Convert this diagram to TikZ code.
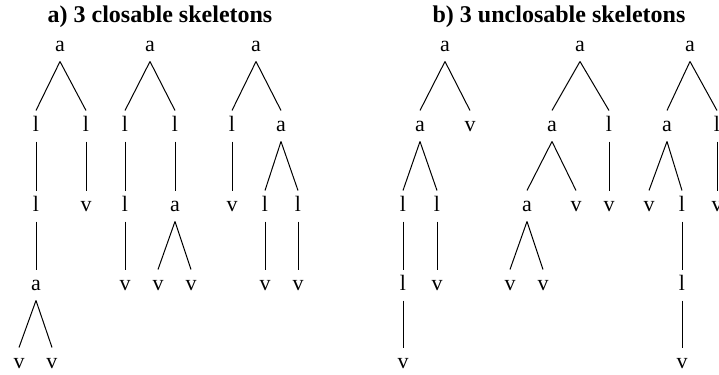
\documentclass[tikz,border=0pt]{standalone}
\usepackage{fontspec}
\setmainfont{Liberation Serif}
\usepackage{tikz}

\tikzset{
  sym/.style={anchor=base, inner xsep=0pt, inner ysep=2.5pt, text height=7.5pt, text depth=2.5pt,
    font=\fontsize{11}{13}\selectfont},
  ttl/.style={anchor=base, inner sep=0pt, font=\fontsize{12}{14}\selectfont\bfseries},
}

\begin{document}
\begin{tikzpicture}[x=0.5pt, y=-0.5pt, line width=0.5pt]
                    \useasboundingbox (0,0) rectangle (719,375);
                    \node[ttl] (ttla) at (160, 22) {a) 3 closable skeletons};
                    \node[ttl] (ttlb) at (559, 22) {b) 3 unclosable skeletons};
                    \begin{scope}[xshift=30pt]
                        \node[sym] (t1n1) at (0, 51) {a};
                        \node[sym] (t1n2) at (-24, 131) {l};
                        \node[sym] (t1n3) at (26, 131) {l};
                        \node[sym] (t1n4) at (-24, 211) {l};
                        \node[sym] (t1n5) at (26, 211) {v};
                        \node[sym] (t1n6) at (-24, 290) {a};
                        \node[sym] (t1n7) at (-41, 368) {v};
                        \node[sym] (t1n8) at (-8, 368) {v};
                        \draw (t1n1.south) -- (t1n2.north);
                        \draw (t1n1.south) -- (t1n3.north);
                        \draw (t1n2.south) -- (t1n4.north);
                        \draw (t1n3.south) -- (t1n5.north);
                        \draw (t1n4.south) -- (t1n6.north);
                        \draw (t1n6.south) -- (t1n7.north);
                        \draw (t1n6.south) -- (t1n8.north);
                    \end{scope}
                    \begin{scope}[xshift=75pt]
                        \node[sym] (t2n1) at (0, 51) {a};
                        \node[sym] (t2n2) at (-25, 131) {l};
                        \node[sym] (t2n3) at (25, 131) {l};
                        \node[sym] (t2n4) at (-25, 211) {l};
                        \node[sym] (t2n5) at (25, 211) {a};
                        \node[sym] (t2n6) at (-25, 290) {v};
                        \node[sym] (t2n7) at (8, 290) {v};
                        \node[sym] (t2n8) at (41, 290) {v};
                        \draw (t2n1.south) -- (t2n2.north);
                        \draw (t2n1.south) -- (t2n3.north);
                        \draw (t2n2.south) -- (t2n4.north);
                        \draw (t2n3.south) -- (t2n5.north);
                        \draw (t2n4.south) -- (t2n6.north);
                        \draw (t2n5.south) -- (t2n7.north);
                        \draw (t2n5.south) -- (t2n8.north);
                    \end{scope}
                    \begin{scope}[xshift=128pt]
                        \node[sym] (t3n1) at (0, 51) {a};
                        \node[sym] (t3n2) at (-24, 131) {l};
                        \node[sym] (t3n3) at (25, 131) {a};
                        \node[sym] (t3n4) at (-24, 211) {v};
                        \node[sym] (t3n5) at (9, 211) {l};
                        \node[sym] (t3n6) at (42, 211) {l};
                        \node[sym] (t3n7) at (9, 290) {v};
                        \node[sym] (t3n8) at (42, 290) {v};
                        \draw (t3n1.south) -- (t3n2.north);
                        \draw (t3n1.south) -- (t3n3.north);
                        \draw (t3n2.south) -- (t3n4.north);
                        \draw (t3n3.south) -- (t3n5.north);
                        \draw (t3n3.south) -- (t3n6.north);
                        \draw (t3n5.south) -- (t3n7.north);
                        \draw (t3n6.south) -- (t3n8.north);
                    \end{scope}
                    \begin{scope}[xshift=222.5pt]
                        \node[sym] (t4n1) at (0, 51) {a};
                        \node[sym] (t4n2) at (-25, 131) {a};
                        \node[sym] (t4n3) at (25, 131) {v};
                        \node[sym] (t4n4) at (-42, 211) {l};
                        \node[sym] (t4n5) at (-8, 211) {l};
                        \node[sym] (t4n6) at (-42, 290) {l};
                        \node[sym] (t4n7) at (-8, 290) {v};
                        \node[sym] (t4n8) at (-42, 368) {v};
                        \draw (t4n1.south) -- (t4n2.north);
                        \draw (t4n1.south) -- (t4n3.north);
                        \draw (t4n2.south) -- (t4n4.north);
                        \draw (t4n2.south) -- (t4n5.north);
                        \draw (t4n4.south) -- (t4n6.north);
                        \draw (t4n5.south) -- (t4n7.north);
                        \draw (t4n6.south) -- (t4n8.north);
                    \end{scope}
                    \begin{scope}[xshift=290pt]
                        \node[sym] (t5n1) at (0, 51) {a};
                        \node[sym] (t5n2) at (-28, 131) {a};
                        \node[sym] (t5n3) at (29, 131) {l};
                        \node[sym] (t5n4) at (-53, 211) {a};
                        \node[sym] (t5n5) at (-4, 211) {v};
                        \node[sym] (t5n6) at (29, 211) {v};
                        \node[sym] (t5n7) at (-70, 290) {v};
                        \node[sym] (t5n8) at (-37, 290) {v};
                        \draw (t5n1.south) -- (t5n2.north);
                        \draw (t5n1.south) -- (t5n3.north);
                        \draw (t5n2.south) -- (t5n4.north);
                        \draw (t5n2.south) -- (t5n5.north);
                        \draw (t5n3.south) -- (t5n6.north);
                        \draw (t5n4.south) -- (t5n7.north);
                        \draw (t5n4.south) -- (t5n8.north);
                    \end{scope}
                    \begin{scope}[xshift=345pt]
                        \node[sym] (t6n1) at (0, 51) {a};
                        \node[sym] (t6n2) at (-23, 131) {a};
                        \node[sym] (t6n3) at (27, 131) {l};
                        \node[sym] (t6n4) at (-41, 211) {v};
                        \node[sym] (t6n5) at (-8, 211) {l};
                        \node[sym] (t6n6) at (27, 211) {v};
                        \node[sym] (t6n7) at (-8, 290) {l};
                        \node[sym] (t6n8) at (-8, 368) {v};
                        \draw (t6n1.south) -- (t6n2.north);
                        \draw (t6n1.south) -- (t6n3.north);
                        \draw (t6n2.south) -- (t6n4.north);
                        \draw (t6n2.south) -- (t6n5.north);
                        \draw (t6n3.south) -- (t6n6.north);
                        \draw (t6n5.south) -- (t6n7.north);
                        \draw (t6n7.south) -- (t6n8.north);
                    \end{scope}
                \end{tikzpicture}
\end{document}
